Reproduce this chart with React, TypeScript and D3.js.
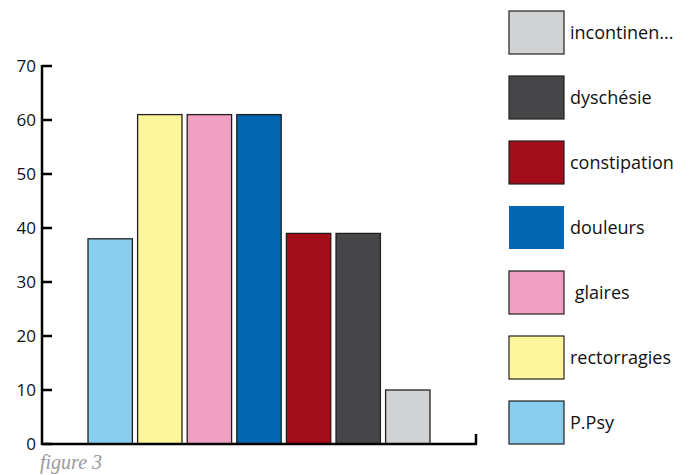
import React from "react";
import * as d3 from "d3";

const categories = ["P.Psy", "rectorragies", "glaires", "douleurs", "constipation", "dyschésie", "incontinen..."];
const values = [38, 61, 61, 61, 39, 39, 10];
const colors = ["#87CEEF", "#FFF59A", "#F0A0C1", "#0066B2", "#A30D1A", "#464648", "#D1D2D4"];
const legendOrder = ["incontinen...", "dyschésie", "constipation", "douleurs", "glaires", "rectorragies", "P.Psy"];
const legendLabels = ["incontinen...", "dyschésie", "constipation", "douleurs", " glaires", "rectorragies", "P.Psy"];
const yTicks = [0, 10, 20, 30, 40, 50, 60, 70];

const W = 694, H = 475;
const axisX = 42, axisBottom = 444, axisRight = 476;

export default function App() {
  const y = d3.scaleLinear().domain([0, 70]).range([axisBottom, 66]);
  const x = d3.scaleBand<string>().domain(categories).range([88, 430]).paddingInner(0.105).paddingOuter(0);
  const font = "'Open Sans', 'Noto Sans', sans-serif";
  return (
    <svg width={W} height={H} style={{ position: "absolute", left: 0, top: 0, background: "#fff" }}>
      {categories.map((c, i) => (
        <rect key={c} x={x(c)!} y={y(values[i])} width={x.bandwidth()} height={axisBottom - y(values[i])}
          fill={colors[i]} stroke="#231F20" strokeWidth={1.3} />
      ))}
      {/* y axis */}
      <line x1={axisX} x2={axisX} y1={y(70) - 1} y2={axisBottom + 1} stroke="#000" strokeWidth={2.5} />
      {yTicks.map(t => (
        <g key={t}>
          <line x1={axisX} x2={axisX + 10} y1={y(t)} y2={y(t)} stroke="#000" strokeWidth={2.5} />
          <text x={axisX - 6} y={y(t)} dy="0.35em" textAnchor="end" fontFamily={font} fontSize={17} fill="#111">{t}</text>
        </g>
      ))}
      {/* x axis */}
      <line x1={axisX} x2={axisRight + 1} y1={axisBottom} y2={axisBottom} stroke="#000" strokeWidth={2.5} />
      <line x1={axisRight} x2={axisRight} y1={axisBottom} y2={axisBottom - 10} stroke="#000" strokeWidth={2.5} />
      {/* legend */}
      {legendOrder.map((c, i) => {
        const idx = categories.indexOf(c);
        const top = 11 + i * 65;
        return (
          <g key={c}>
            <rect x={509} y={top} width={55} height={43} fill={colors[idx]}
              stroke={c === "douleurs" ? "none" : "#231F20"} strokeWidth={1.2} />
            <text x={570} y={top + 21.5} dy="0.35em" fontFamily={font} fontSize={18} fill="#111" style={{ whiteSpace: "pre" }}>{legendLabels[i]}</text>
          </g>
        );
      })}
      <text x={40} y={469} fontFamily="'Liberation Serif', serif" fontStyle="italic" fontSize={20} fill="#9a9a9a">figure 3</text>
    </svg>
  );
}
